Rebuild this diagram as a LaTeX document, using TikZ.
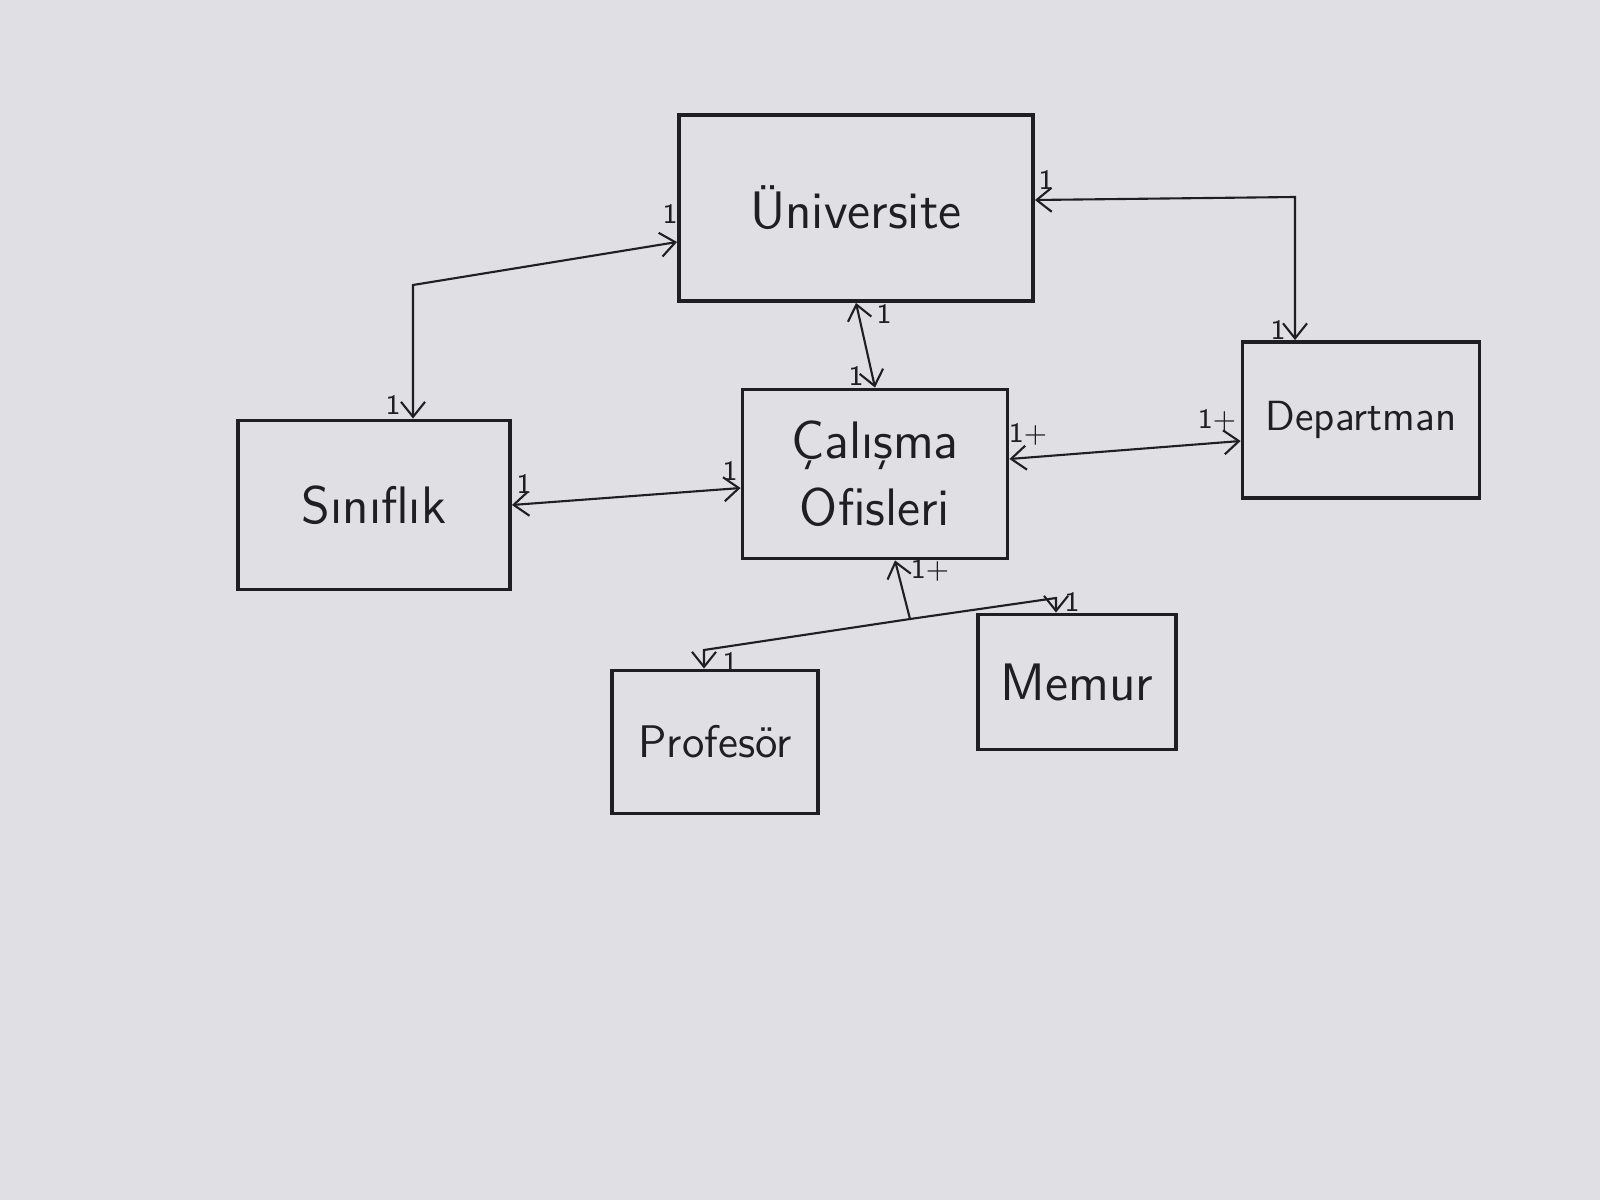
\documentclass[tikz,border=0pt]{standalone}
\usepackage{fontspec}
\usepackage{tikz}
\usetikzlibrary{arrows.meta}
\definecolor{paper}{rgb}{0.88,0.88,0.895}
\definecolor{ink}{rgb}{0.12,0.12,0.13}
\tikzstyle{kutu}=[draw=ink, line width=1.1pt, text=ink, align=center, inner sep=0pt,
  font=\sffamily\fontsize{15}{19}\selectfont]
\tikzstyle{iliski}=[<->, draw=ink, line width=0.6pt]
\tikzstyle{cokluk}=[font=\fontsize{8}{9}\selectfont\sffamily, text=ink, inner sep=0pt]

\begin{document}
\begin{tikzpicture}[>={Straight Barb[length=1.5mm,width=2.4mm]}]
        \fill[paper] (0,0) rectangle (16,12);
        \useasboundingbox (0,0) rectangle (16,12);
        % siniflar
        \node[kutu, minimum width=3.54cm, minimum height=1.86cm] (univ) at (8.56,9.92) {Üniversite};
        \node[kutu, minimum width=2.72cm, minimum height=1.69cm] (sinif) at (3.74,6.95) {Sınıflık};
        \node[kutu, minimum width=2.65cm, minimum height=1.69cm] (ofis) at (8.75,7.26) {Çalışma\\Ofisleri};
        \node[kutu, minimum width=2.37cm, minimum height=1.56cm, font=\sffamily\fontsize{12}{15}\selectfont] (dept) at (13.61,7.80) {Departman};
        \node[kutu, minimum width=2.06cm, minimum height=1.43cm, font=\sffamily\fontsize{13}{16}\selectfont] (prof) at (7.15,4.58) {Profesör};
        \node[kutu, minimum width=1.98cm, minimum height=1.35cm] (memur) at (10.77,5.18) {Memur};
        % kirilma noktalari
        \coordinate (k1) at (4.13,9.15);
        \coordinate (k2) at (12.95,10.03);
        \coordinate (j) at (9.10,5.81);
        \coordinate (kp) at (7.04,5.50);
        \coordinate (km) at (10.56,6.02);
        % iliskiler
        \draw[iliski] ([yshift=-3.4mm]univ.west) -- (k1) -- (k1 |- sinif.north);
        \draw[iliski] ([yshift=0.8mm]univ.east) -- (k2) -- (k2 |- dept.north);
        \draw[iliski] (univ.south) -- (ofis.north);
        \draw[iliski] (sinif.east) -- ([yshift=-1.4mm]ofis.west);
        \draw[iliski] ([yshift=1.5mm]ofis.east) -- ([yshift=-2.1mm]dept.west);
        \draw[iliski, ->] (j) -- ([xshift=2mm]ofis.south);
        \draw[iliski, ->] (j) -- (kp) -- (kp |- prof.north);
        \draw[iliski, ->] (j) -- (km) -- (km |- memur.north);
        % cokluklar
        \node[cokluk] (c1) at (6.70,9.86) {1};
        \node[cokluk] (c2) at (3.93,7.95) {1};
        \node[cokluk] (c3) at (10.46,10.20) {1};
        \node[cokluk] (c4) at (12.78,8.70) {1};
        \node[cokluk] (c5) at (8.84,8.86) {1};
        \node[cokluk] (c6) at (8.56,8.24) {1};
        \node[cokluk] (c7) at (5.24,7.16) {1};
        \node[cokluk] (c8) at (7.30,7.29) {1};
        \node[cokluk] (c9) at (10.28,7.66) {1+};
        \node[cokluk] (c10) at (12.17,7.80) {1+};
        \node[cokluk] (c11) at (9.30,6.30) {1+};
        \node[cokluk] (c12) at (7.30,5.38) {1};
        \node[cokluk] (c13) at (10.72,5.98) {1};
\end{tikzpicture}
\end{document}
